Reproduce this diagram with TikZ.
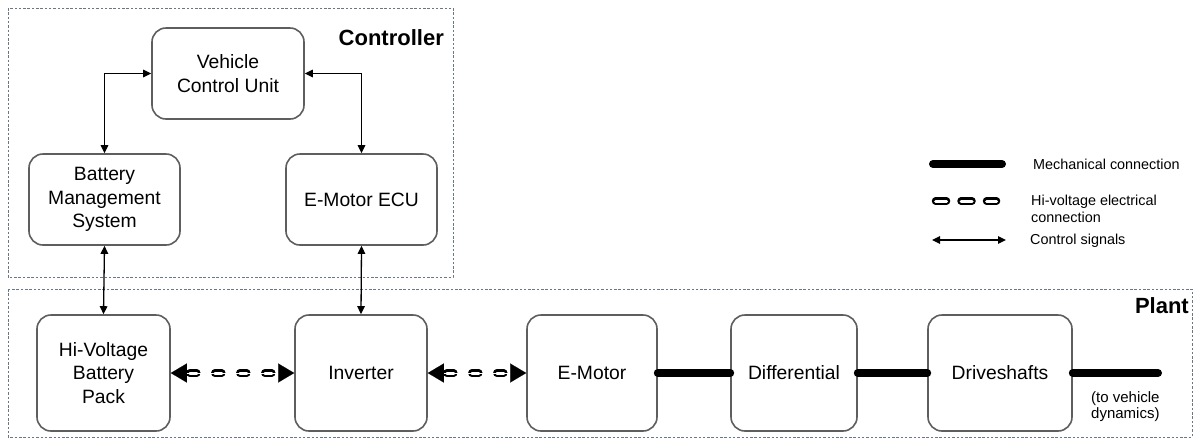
\documentclass[tikz,border=0pt]{standalone}
\usepackage{fontspec}
\setmainfont{Liberation Sans}
\usetikzlibrary{arrows.meta}
\definecolor{boxline}{HTML}{5E5E5E}
\definecolor{frameline}{HTML}{6B7785}
\tikzset{
  block/.style={draw=boxline, line width=1.6pt, rounded corners=14pt,
    align=center, inner sep=0pt, font=\fontsize{19.3}{23.5}\selectfont},
  frame/.style={draw=frameline, line width=0.8pt, dash pattern=on 2.5pt off 1.8pt},
  title/.style={font=\fontsize{22}{26}\selectfont\bfseries, inner sep=0pt},
  legtext/.style={font=\fontsize{14.4}{16.5}\selectfont, align=left, anchor=west, inner sep=0pt},
  ctl/.style={line width=1.3pt, {Triangle[length=8pt,width=7.5pt]}-{Triangle[length=8pt,width=7.5pt]}},
  mech/.style={line width=8pt, line cap=round},
  hv/.style={line width=7.5pt, line cap=round, dash pattern=#1,
    postaction={draw=white, line width=3pt, line cap=round, dash pattern=#1}},
  hv/.default={on 7pt off 18pt},
  hvtips/.style={white, line width=0.1pt,
    {Triangle[color=black,fill=black,length=16pt,width=19pt]}-{Triangle[color=black,fill=black,length=16pt,width=19pt]}}
}
\begin{document}
\begin{tikzpicture}[x=1pt, y=-1pt]
\useasboundingbox (0,0) rectangle (1194,440);

% group frames
\draw[frame] (8,8) rectangle (453,277);
\draw[frame] (8,289) rectangle (1192,437);
\node[title, anchor=base east] (ctrltitle) at (444,45) {Controller};
\node[title, anchor=base east] (planttitle) at (1189,313) {Plant};

% controller blocks
\node[block, minimum width=152pt, minimum height=91pt] (vcu) at (228,73.5) {Vehicle\\Control Unit};
\node[block, minimum width=151pt, minimum height=91pt] (bms) at (104.5,199.5) {Battery\\Management\\System};
\node[block, minimum width=151pt, minimum height=91pt] (ecu) at (361.5,199.5) {E-Motor ECU};

% plant blocks
\node[block, minimum width=133pt, minimum height=116pt] (hvb) at (103.5,373) {Hi-Voltage\\Battery\\Pack};
\node[block, minimum width=132pt, minimum height=116pt] (inv) at (361,373) {Inverter};
\node[block, minimum width=130pt, minimum height=116pt] (mot) at (592,373) {E-Motor};
\node[block, minimum width=126pt, minimum height=116pt] (dif) at (794,373) {Differential};
\node[block, minimum width=144pt, minimum height=116pt] (drv) at (1000,373) {Driveshafts};

% control signals
\draw[ctl] (vcu.west) -| (bms.north);
\draw[ctl] (vcu.east) -| (ecu.north);
\draw[ctl] (bms.south) -- (hvb.north);
\draw[ctl] (ecu.south) -- (inv.north);

% high-voltage links
\draw[hv, shorten <=19pt, shorten >=12pt] (hvb.east) -- (inv.west);
\draw[hvtips] (hvb.east) -- (inv.west);
\draw[hv, shorten <=19pt, shorten >=12pt] (inv.east) -- (mot.west);
\draw[hvtips] (inv.east) -- (mot.west);

% mechanical links
\draw[mech] (mot.east) -- (dif.west);
\draw[mech] (dif.east) -- (drv.west);
\coordinate (veh) at (1158,373);
\draw[mech] (drv.east) -- (veh);
\node[legtext, anchor=north west, font=\fontsize{15}{16}\selectfont] (vehtext) at (1091,391) {(to vehicle\\dynamics)};

% legend
\coordinate (m1) at (933,164);  \coordinate (m2) at (1002,164);
\coordinate (h1) at (935.5,201); \coordinate (h2) at (996.5,201);
\coordinate (c1) at (932,240);  \coordinate (c2) at (1006,240);
\draw[mech] (m1) -- (m2);
\draw[hv={on 11pt off 14.5pt}] (h1) -- (h2);
\draw[ctl] (c1) -- (c2);
\node[legtext] (legmech) at (1033,164) {Mechanical connection};
\node[legtext] (leghv) at (1031,209) {Hi-voltage electrical\\connection};
\node[legtext] (legctl) at (1030,241) {Control signals};
\end{tikzpicture}
\end{document}
